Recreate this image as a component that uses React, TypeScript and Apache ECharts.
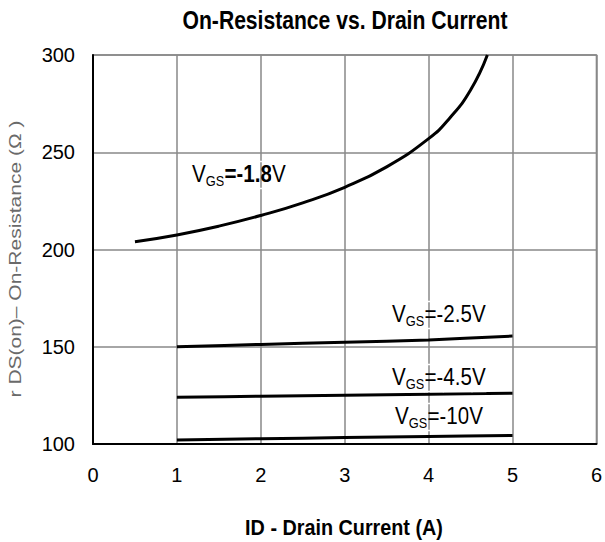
import React, { useEffect, useRef } from "react";
import * as echarts from "echarts";

const title = "On-Resistance vs. Drain Current";
const xName = "ID - Drain Current (A)";
const yName = "r DS(on)– On-Resistance (Ω )";

const vgs18: [number, number][] = [
  [0.5, 204], [1, 207.5], [1.5, 212], [2, 217.5], [2.5, 224], [3, 232],
  [3.5, 242.5], [4, 257], [4.25, 267.5], [4.5, 282], [4.7, 300],
];
const vgs25: [number, number][] = [[1, 150], [2, 151.2], [3, 152.3], [4, 153.5], [5, 155.5]];
const vgs45: [number, number][] = [[1, 124], [2, 124.6], [3, 125.1], [4, 125.6], [5, 126.1]];
const vgs10: [number, number][] = [[1, 102], [2, 102.7], [3, 103.3], [4, 103.9], [5, 104.4]];

const labelTexts = [
  { pre: "=-", num: "1.8", post: "V", bold: true, x: 192, y: 174 },
  { pre: "=-", num: "2.5", post: "V", bold: false, x: 392, y: 314 },
  { pre: "=-", num: "4.5", post: "V", bold: false, x: 392, y: 377 },
  { pre: "=-", num: "10", post: "V", bold: false, x: 395, y: 416 },
];

const sans = "'Liberation Sans', Arial, sans-serif";

export default function App() {
  const ref = useRef<HTMLDivElement>(null);
  useEffect(() => {
    if (!ref.current) return;
    const chart = echarts.init(ref.current, null, { renderer: "svg" });
    const lineSeries = (data: [number, number][], smooth: number) => ({
      type: "line",
      data,
      smooth,
      showSymbol: false,
      lineStyle: { color: "#000", width: 3 },
      z: 3,
    });
    const big = (bold: boolean) => ({
      fontFamily: sans,
      fontSize: 24,
      color: "#000",
      fontWeight: bold ? "bold" : "normal",
      verticalAlign: "bottom",
      padding: [0, 0, 3, 0],
      textBorderColor: "#fff",
      textBorderWidth: 1.5,
    });
    chart.setOption({
      animation: false,
      backgroundColor: "#fff",
      grid: { left: 93, top: 55, width: 506, height: 389, containLabel: false, show: true, borderColor: "#888", borderWidth: 1.5 },
      xAxis: {
        type: "value",
        min: 0,
        max: 6,
        interval: 1,
        axisLine: { show: true, onZero: false, lineStyle: { color: "#000", width: 2 } },
        axisTick: { show: false },
        axisLabel: { fontFamily: sans, fontSize: 20, color: "#000", margin: 21 },
        splitLine: { show: true, lineStyle: { color: "#888", width: 1.5 } },
      },
      yAxis: {
        type: "value",
        min: 100,
        max: 300,
        interval: 50,
        axisLine: { show: true, onZero: false, lineStyle: { color: "#000", width: 2 } },
        axisTick: { show: false },
        axisLabel: { fontFamily: sans, fontSize: 20, color: "#000", margin: 18 },
        splitLine: { show: true, lineStyle: { color: "#888", width: 1.5 } },
      },
      series: [
        lineSeries(vgs18, 0.5),
        lineSeries(vgs25, 0.3),
        lineSeries(vgs45, 0.3),
        lineSeries(vgs10, 0.3),
      ],
      graphic: [
        {
          type: "text",
          x: 345,
          y: 20,
          scaleX: 0.845,
          style: {
            text: title,
            align: "center",
            verticalAlign: "middle",
            fontFamily: sans,
            fontWeight: "bold",
            fontSize: 25,
            fill: "#000",
          },
        },
        {
          type: "text",
          x: 344,
          y: 527.5,
          scaleX: 0.9,
          style: {
            text: xName,
            align: "center",
            verticalAlign: "middle",
            fontFamily: sans,
            fontWeight: "bold",
            fontSize: 22,
            fill: "#000",
          },
        },
        {
          type: "text",
          x: 15,
          y: 259,
          rotation: Math.PI / 2,
          scaleY: 0.82,
          style: {
            text: yName,
            align: "center",
            verticalAlign: "middle",
            fontFamily: sans,
            fontSize: 21,
            fill: "#6a6a6a",
          },
        },
        ...labelTexts.map((l) => ({
          type: "text",
          x: l.x,
          y: l.y + 1,
          z: 10,
          scaleX: 0.86,
          style: {
            text: `{v|V}{s|GS}{e|${l.pre}}{n|${l.num}}{v|${l.post}}`,
            verticalAlign: "middle",
            align: "left",
            rich: {
              v: big(false),
              s: { fontFamily: sans, fontSize: 15, color: "#000", verticalAlign: "bottom", textBorderColor: "#fff", textBorderWidth: 1.5 },
              e: big(l.bold),
              n: big(l.bold),
            },
          },
        })),
      ],
    });
    return () => chart.dispose();
  }, []);
  return <div ref={ref} style={{ width: 605, height: 542, position: "absolute", left: 0, top: 0 }} />;
}
